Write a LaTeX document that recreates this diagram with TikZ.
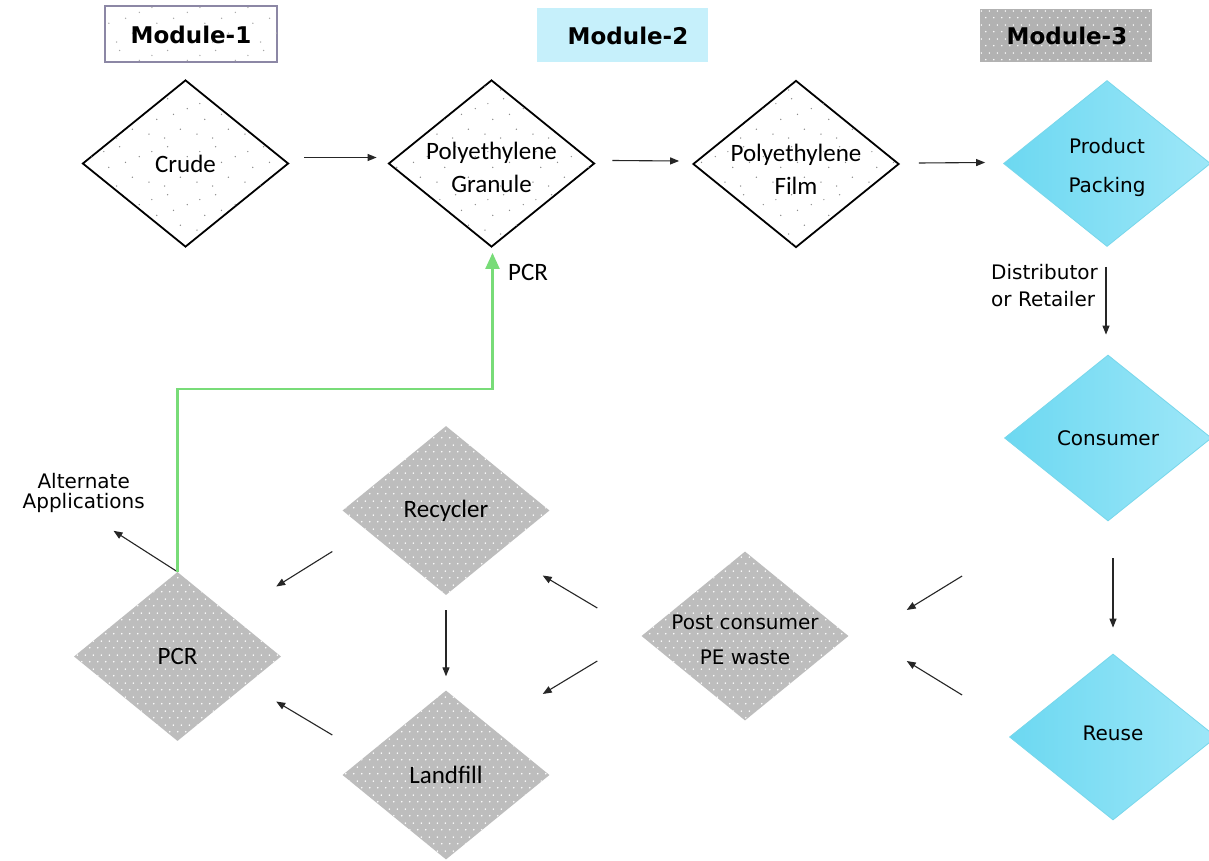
\documentclass[tikz,border=0pt]{standalone}
\usepackage{fontspec}
\setmainfont{DejaVu Sans}
\newfontfamily\carl{Carlito}
\usetikzlibrary{shapes.geometric,arrows.meta,patterns,calc}

\pgfdeclarepatternformonly{sparsedots}{\pgfpointorigin}{\pgfpoint{48pt}{48pt}}{\pgfpoint{48pt}{48pt}}{%
\pgfpathcircle{\pgfpoint{5pt}{7pt}}{0.75pt}
\pgfpathcircle{\pgfpoint{21pt}{3pt}}{0.75pt}
\pgfpathcircle{\pgfpoint{37pt}{12pt}}{0.75pt}
\pgfpathcircle{\pgfpoint{13pt}{22pt}}{0.75pt}
\pgfpathcircle{\pgfpoint{30pt}{27pt}}{0.75pt}
\pgfpathcircle{\pgfpoint{44pt}{33pt}}{0.75pt}
\pgfpathcircle{\pgfpoint{8pt}{38pt}}{0.75pt}
\pgfpathcircle{\pgfpoint{24pt}{43pt}}{0.75pt}
\pgfusepath{fill}}

\pgfdeclarepatternformonly{hexdots}{\pgfpointorigin}{\pgfpoint{8pt}{14pt}}{\pgfpoint{8pt}{14pt}}{%
\pgfpathcircle{\pgfpoint{2pt}{3.5pt}}{0.9pt}
\pgfpathcircle{\pgfpoint{6pt}{10.5pt}}{0.9pt}
\pgfusepath{fill}}

\definecolor{cyanD}{RGB}{108,216,241}
\definecolor{cyanL}{RGB}{158,231,248}
\definecolor{cyanB}{RGB}{120,215,235}
\definecolor{modcyan}{RGB}{198,240,251}
\definecolor{diamgray}{RGB}{189,189,189}
\definecolor{modborder}{RGB}{140,135,165}
\definecolor{pcrgreen}{RGB}{120,220,120}

\tikzset{
  wdiam/.style={diamond, draw=black, line width=1.8pt, fill=white,
    postaction={pattern=sparsedots, pattern color=black!45},
    minimum width=206pt, minimum height=167pt, inner sep=0pt},
  gdiam/.style={diamond, draw=none, fill=diamgray,
    postaction={pattern=hexdots, pattern color=white},
    minimum width=207pt, minimum height=169pt, inner sep=0pt},
  cdiam/.style={diamond, draw=cyanB, line width=0.8pt,
    left color=cyanD, right color=cyanL,
    minimum width=207pt, minimum height=166pt, inner sep=0pt},
  ctext/.style={font=\carl\fontsize{25}{33}\selectfont, align=center, text=black},
  vtext/.style={font=\fontsize{20}{39}\selectfont, align=center, text=black},
  ptext/.style={font=\fontsize{20}{35}\selectfont, align=center, text=black},
  modtext/.style={font=\bfseries\fontsize{23}{27}\selectfont, text=black},
  arr/.style={-{Triangle[length=9pt,width=7pt]}, line width=1.1pt, black!85},
  greenarr/.style={-{Triangle[length=16pt,width=14pt]}, line width=2.2pt, pcrgreen},
}

\begin{document}
\begin{tikzpicture}[x=1pt,y=-1pt]
\useasboundingbox (0,0) rectangle (1209,861);
\fill[white] (0,0) rectangle (1209,861);

% module boxes
\node[draw=modborder, line width=1.5pt, fill=white,
  postaction={pattern=sparsedots, pattern color=black!35},
  minimum width=172pt, minimum height=56pt, inner sep=0pt] (m1) at (191,34) {};
\node[modtext] (m1t) at (191,35) {Module-1};
\node[fill=modcyan, minimum width=171pt, minimum height=54pt, inner sep=0pt] (m2) at (622.5,35) {};
\node[modtext] (m2t) at (628,36) {Module-2};
\node[fill=black!30, postaction={pattern=hexdots, pattern color=white},
  minimum width=172pt, minimum height=53pt, inner sep=0pt] (m3) at (1066,35.5) {};
\node[modtext] (m3t) at (1067,36) {Module-3};

% top row
\node[wdiam, label={[ctext]center:Crude}] (crude) at (185.5,163.5) {};
\node[wdiam, label={[ctext,yshift=-4pt]center:{Polyethylene\\Granule}}] (gran) at (491.5,163.5) {};
\node[wdiam, label={[ctext,yshift=-5pt]center:{Polyethylene\\Film}}] (film) at (796,164) {};
\node[cdiam, label={[vtext,yshift=-4pt]center:{Product\\Packing}}] (pack) at (1107,163.5) {};

% right column
\node[cdiam, label={[vtext]center:Consumer}] (cons) at (1108,438) {};
\node[cdiam, label={[vtext,yshift=4pt]center:Reuse}] (reuse) at (1113,737) {};

% gray diamonds
\node[gdiam, label={[ptext,yshift=-4pt]center:{Post consumer\\PE waste}}] (post) at (745,636) {};
\node[gdiam, label={[ctext]center:Recycler}] (recy) at (446,510.5) {};
\node[gdiam, label={[ctext]center:Landfill}] (land) at (446,775) {};
\node[gdiam, label={[ctext]center:PCR}] (pcr) at (177.5,656.5) {};

% labels
\node[font=\fontsize{20}{27}\selectfont, align=left, anchor=west, inner sep=0pt] (dist) at (991,286) {Distributor\\or Retailer};
\node[font=\fontsize{20}{20}\selectfont, align=center, anchor=east, inner sep=0pt] (alt) at (145,493) {Alternate\\Applications};
\node[font=\carl\fontsize{25}{30}\selectfont, inner sep=0pt] (pcrlbl) at (528,272) {PCR};

% arrows top row
\draw[arr] ($(crude.east)+(15,-6)$) -- ($(gran.west)+(-11,-6)$);
\draw[arr] ($(gran.east)+(17,-3)$) -- ($(film.west)+(-13,-3)$);
\draw[arr] ($(film.east)+(19,-1)$) -- ($(pack.west)+(-18,-1)$);

% right column
\draw[arr] ($(pack.south)+(-1,20)$) -- ($(cons.north)+(-2,-20)$);
\draw[arr] ($(cons.south)+(5,37)$) -- ($(reuse.north)+(0,-26)$);

% to post consumer
\draw[arr] ($(cons.west)+(-42,138)$) -- ($(post.east)+(58,-26)$);
\draw[arr] ($(reuse.west)+(-47,-42)$) -- ($(post.east)+(58,25)$);

% from post consumer
\draw[arr] ($(post.west)+(-44,-28)$) -- ($(recy.east)+(-7,65)$);
\draw[arr] ($(post.west)+(-44,25)$) -- ($(land.east)+(-7,-81)$);

% recycler / landfill / pcr
\draw[arr] ($(recy.south)+(0,15)$) -- ($(land.north)+(0,-14)$);
\draw[arr] ($(recy.west)+(-10,41)$) -- ($(pcr.east)+(-5,-70)$);
\draw[arr] ($(land.west)+(-10,-40)$) -- ($(pcr.east)+(-5,45)$);

% pcr to alternate applications
\draw[arr] (pcr.north) -- ($(pcr.north)+(-64,-41)$);

% green PCR loop
\draw[greenarr] (pcr.north) -- ++(0,-183) -| ($(gran.south)+(1,5)$);
\end{tikzpicture}
\end{document}
